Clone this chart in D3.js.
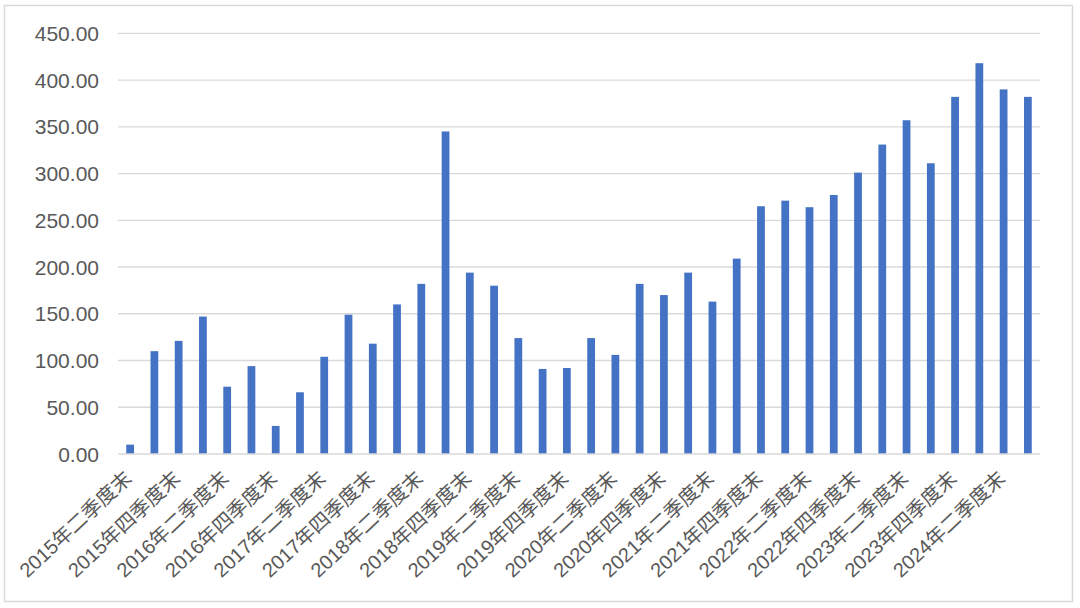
<!DOCTYPE html>
<html><head><meta charset="utf-8">
<script src="https://cdn.jsdelivr.net/npm/d3@7"></script>
<style>html,body{margin:0;padding:0;background:#fff;}svg{display:block;}</style>
</head><body>
<svg id="chart" width="1080" height="608"></svg>
<script>
const categories = [
"2015年二季度末","2015年三季度末","2015年四季度末",
"2016年一季度末","2016年二季度末","2016年三季度末","2016年四季度末",
"2017年一季度末","2017年二季度末","2017年三季度末","2017年四季度末",
"2018年一季度末","2018年二季度末","2018年三季度末","2018年四季度末",
"2019年一季度末","2019年二季度末","2019年三季度末","2019年四季度末",
"2020年一季度末","2020年二季度末","2020年三季度末","2020年四季度末",
"2021年一季度末","2021年二季度末","2021年三季度末","2021年四季度末",
"2022年一季度末","2022年二季度末","2022年三季度末","2022年四季度末",
"2023年一季度末","2023年二季度末","2023年三季度末","2023年四季度末",
"2024年一季度末","2024年二季度末","2024年三季度末"];
const values = [10,110,121,147,72,94,30,66,104,149,118,160,182,345,194,180,124,91,92,124,106,182,170,194,163,209,265,271,264,277,301,331,357,311,382,418,390,382];
const yTicks = [0,50,100,150,200,250,300,350,400,450];

(function(){
const svg = d3.select("#chart");
const pLeft = 118, pRight = 1040, pTop = 33.3, pBottom = 454;

svg.append("rect").attr("x",4.5).attr("y",5.5).attr("width",1068).attr("height",596)
  .attr("fill","#fff").attr("stroke","#d9d9d9").attr("stroke-width",1.5);

const x = d3.scaleBand().domain(categories).range([pLeft,pRight]).paddingInner(0.68).paddingOuter(0.34);
const y = d3.scaleLinear().domain([0,450]).range([pBottom,pTop]);

svg.append("g").selectAll("line").data(yTicks.filter(d=>d>0)).join("line")
  .attr("x1",pLeft).attr("x2",pRight).attr("y1",d=>y(d)).attr("y2",d=>y(d))
  .attr("stroke","#d9d9d9").attr("stroke-width",1.3);

svg.append("g").selectAll("text").data(yTicks).join("text")
  .attr("x",99).attr("y",d=>y(d)).attr("dy","0.36em").attr("text-anchor","end")
  .attr("font-family","'Liberation Sans', Arial, sans-serif").attr("font-size",21)
  .attr("fill","#595959").text(d=>d3.format(".2f")(d));

svg.append("g").selectAll("rect").data(values).join("rect")
  .attr("x",(d,i)=>x(categories[i])).attr("width",x.bandwidth())
  .attr("y",d=>y(d)).attr("height",d=>pBottom-y(d)).attr("fill","#4472C4");

svg.append("line").attr("x1",pLeft).attr("x2",pRight).attr("y1",pBottom).attr("y2",pBottom)
  .attr("stroke","#d9d9d9").attr("stroke-width",1.3);

svg.append("g").selectAll("text").data(categories.filter((d,i)=>i%2===0)).join("text")
  .attr("transform",d=>`translate(${x(d)+x.bandwidth()/2+3},480) rotate(-43)`)
  .attr("text-anchor","end")
  .attr("font-family","'Liberation Sans','Noto Sans CJK SC',sans-serif").attr("font-size",20)
  .attr("fill","#595959").text(d=>d);
})();
</script>
</body></html>
